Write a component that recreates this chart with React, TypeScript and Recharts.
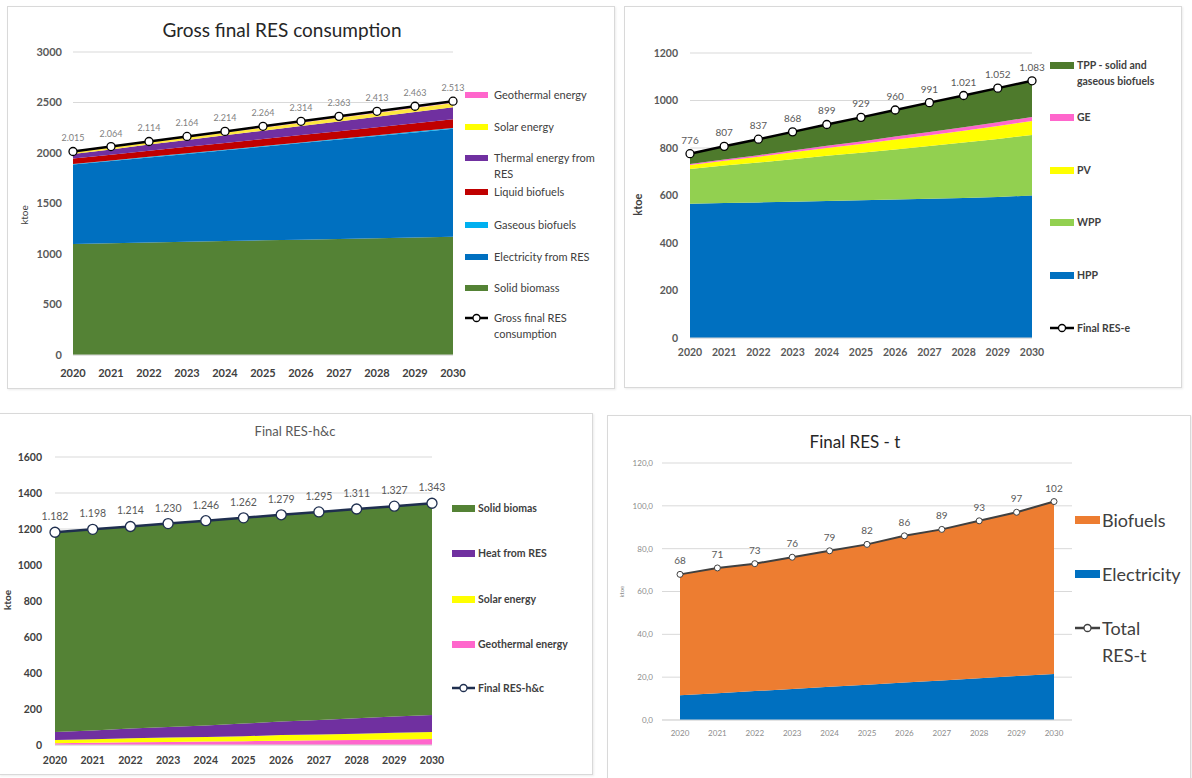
import React from "react";
import {
  ComposedChart,
  Area,
  Line,
  XAxis,
  YAxis,
  CartesianGrid,
  LabelList,
} from "recharts";

const YEARS = ["2020", "2021", "2022", "2023", "2024", "2025", "2026", "2027", "2028", "2029", "2030"];

// Gross final RES consumption (ktoe)
const grossSolidBiomass = [1100, 1107, 1114, 1121, 1128, 1135, 1142, 1149, 1156, 1163, 1170];
const grossElectricity = [785, 813, 842, 870, 899, 927, 956, 984, 1013, 1041, 1070];
const grossGaseous = [5, 5, 6, 6, 6, 7, 7, 7, 7, 8, 8];
const grossLiquid = [55, 58, 61, 64, 67, 70, 73, 76, 79, 82, 85];
const grossThermal = [45, 52, 60, 67, 75, 82, 90, 97, 105, 112, 120];
const grossSolar = [18, 20, 23, 25, 28, 30, 32, 35, 37, 40, 42];
const grossGeothermal = [7, 8, 8, 9, 10, 11, 12, 14, 15, 17, 18];
const grossTotal = [2015, 2064, 2114, 2164, 2214, 2264, 2314, 2363, 2413, 2463, 2513];

// Final RES-e (ktoe)
const eHpp = [565, 568, 571, 574, 577, 580, 583, 586, 590, 594, 600];
const eWpp = [147, 158, 168, 179, 190, 200, 211, 222, 233, 244, 255];
const ePv = [16, 20, 24, 29, 33, 37, 42, 46, 50, 55, 59];
const eGe = [5, 6, 7, 8, 9, 10, 12, 13, 14, 15, 17];
const eTpp = [43, 55, 67, 78, 90, 102, 112, 124, 134, 144, 152];
const eTotal = [776, 807, 837, 868, 899, 929, 960, 991, 1021, 1052, 1083];

// Final RES-h&c (ktoe)
const hcGeothermal = [10, 12, 15, 17, 19, 21, 24, 26, 28, 31, 33];
const hcSolar = [18, 20, 22, 24, 26, 28, 31, 33, 35, 37, 39];
const hcHeat = [44, 49, 54, 59, 64, 70, 75, 80, 85, 90, 95];
const hcBiomass = [1110, 1117, 1123, 1130, 1137, 1143, 1149, 1156, 1163, 1169, 1176];
const hcTotal = [1182, 1198, 1214, 1230, 1246, 1262, 1279, 1295, 1311, 1327, 1343];

// Final RES-t (ktoe)
const tElectricity = [11.5, 12.5, 13.5, 14.5, 15.5, 16.5, 17.5, 18.5, 19.5, 20.5, 21.5];
const tBiofuels = [56.5, 58.5, 59.5, 61.5, 63.5, 65.5, 68.5, 70.5, 73.5, 76.5, 80.5];
const tTotal = [68, 71, 73, 76, 79, 82, 86, 89, 93, 97, 102];

const grossTicks = [0, 500, 1000, 1500, 2000, 2500, 3000];
const eTicks = [0, 200, 400, 600, 800, 1000, 1200];
const hcTicks = [0, 200, 400, 600, 800, 1000, 1200, 1400, 1600];
const tTicks = [0, 20, 40, 60, 80, 100, 120];

const FONT = 'Lato, "Open Sans", sans-serif';

const grossData = YEARS.map((year, i) => ({
  year,
  solid: grossSolidBiomass[i],
  elec: grossElectricity[i],
  gas: grossGaseous[i],
  liquid: grossLiquid[i],
  thermal: grossThermal[i],
  solar: grossSolar[i],
  geo: grossGeothermal[i],
  total: grossTotal[i],
}));

const eData = YEARS.map((year, i) => ({
  year,
  hpp: eHpp[i],
  wpp: eWpp[i],
  pv: ePv[i],
  ge: eGe[i],
  tpp: eTpp[i],
  total: eTotal[i],
}));

const hcData = YEARS.map((year, i) => ({
  year,
  geo: hcGeothermal[i],
  solar: hcSolar[i],
  heat: hcHeat[i],
  biomass: hcBiomass[i],
  total: hcTotal[i],
}));

const tData = YEARS.map((year, i) => ({
  year,
  elec: tElectricity[i],
  bio: tBiofuels[i],
  total: tTotal[i],
}));

// 2015 -> "2.015"
const dotThousands = (v: any) => {
  const n = Math.round(Number(v));
  if (n < 1000) return String(n);
  return `${Math.floor(n / 1000)}.${String(n % 1000).padStart(3, "0")}`;
};
const commaDecimal = (v: any) => Number(v).toFixed(1).replace(".", ",");

function Panel({ left, top, width, height }: any) {
  return (
    <div
      style={{
        position: "absolute",
        left,
        top,
        width,
        height,
        border: "1px solid #d9d9d9",
        boxShadow: "1px 1px 2px rgba(0,0,0,0.08)",
        background: "#fff",
        boxSizing: "border-box",
      }}
    />
  );
}

function Title({ cx, cy, text, size, color, weight }: any) {
  return (
    <div
      style={{
        position: "absolute",
        left: cx - 200,
        top: cy - size * 0.6,
        width: 400,
        lineHeight: `${size * 1.2}px`,
        textAlign: "center",
        fontSize: size,
        color,
        fontWeight: weight || 400,
        fontFamily: FONT,
        whiteSpace: "nowrap",
      }}
    >
      {text}
    </div>
  );
}

function AxisTitle({ cx, cy, text, size, color, weight }: any) {
  return (
    <div
      style={{
        position: "absolute",
        left: cx - 30,
        top: cy - size * 0.6,
        width: 60,
        lineHeight: `${size * 1.2}px`,
        textAlign: "center",
        fontSize: size,
        color,
        fontWeight: weight || 400,
        fontFamily: FONT,
        transform: "rotate(-90deg)",
      }}
    >
      {text}
    </div>
  );
}

function LegendItem({ x, y, sw, sh, tx, color, lines, size, weight, lineHeight, kind, lineColor }: any) {
  return (
    <>
      {kind === "line" ? (
        <svg style={{ position: "absolute", left: x, top: y - 6 }} width={sw} height={12}>
          <line x1={0} y1={6} x2={sw} y2={6} stroke={lineColor} strokeWidth={2.5} />
          <circle cx={sw / 2} cy={6} r={3.5} fill="#fff" stroke={lineColor} strokeWidth={1.3} />
        </svg>
      ) : (
        <div
          style={{
            position: "absolute",
            left: x,
            top: y - sh / 2,
            width: sw,
            height: sh,
            background: color,
          }}
        />
      )}
      <div
        style={{
          position: "absolute",
          left: tx,
          top: y - lineHeight / 2,
          lineHeight: `${lineHeight}px`,
          fontSize: size,
          fontWeight: weight || 400,
          color: "#404040",
          fontFamily: FONT,
          whiteSpace: "nowrap",
        }}
      >
        {lines.map((l: string, i: number) => (
          <div key={i}>{l}</div>
        ))}
      </div>
    </>
  );
}

const grossLegend = [
  { label: ["Geothermal energy"], color: "#ff66cc", y: 95 },
  { label: ["Solar energy"], color: "#ffff00", y: 127 },
  { label: ["Thermal energy from", "RES"], color: "#7030a0", y: 158 },
  { label: ["Liquid biofuels"], color: "#c00000", y: 192 },
  { label: ["Gaseous biofuels"], color: "#00b0f0", y: 225 },
  { label: ["Electricity from RES"], color: "#0070c0", y: 257 },
  { label: ["Solid biomass"], color: "#548235", y: 288 },
  { label: ["Gross final RES", "consumption"], color: "#000", y: 318, kind: "line" },
];

const eLegend = [
  { label: ["TPP - solid and", "gaseous biofuels"], color: "#4e7a2c", y: 65 },
  { label: ["GE"], color: "#ff66cc", y: 117 },
  { label: ["PV"], color: "#ffff00", y: 170 },
  { label: ["WPP"], color: "#92d050", y: 222 },
  { label: ["HPP"], color: "#0070c0", y: 275 },
  { label: ["Final RES-e"], color: "#000", y: 328, kind: "line" },
];

const hcLegend = [
  { label: ["Solid biomas"], color: "#548235", y: 508 },
  { label: ["Heat from RES"], color: "#7030a0", y: 553 },
  { label: ["Solar energy"], color: "#ffff00", y: 599 },
  { label: ["Geothermal energy"], color: "#ff66cc", y: 644 },
  { label: ["Final RES-h&c"], color: "#1f2f4f", y: 688, kind: "line" },
];

const tLegend = [
  { label: ["Biofuels"], color: "#ed7d31", y: 520 },
  { label: ["Electricity"], color: "#0070c0", y: 574 },
  { label: ["Total", "RES-t"], color: "#404040", y: 628, kind: "line" },
];

export default function App() {
  const xTick = { fontSize: 11, fill: "#404040", fontWeight: 700, fontFamily: FONT };
  return (
    <div style={{ position: "absolute", left: 0, top: 0, width: 1192, height: 778, background: "#fff", overflow: "hidden", fontFamily: FONT }}>
      <Panel left={7} top={6} width={608} height={383} />
      <Panel left={624} top={6} width={558} height={382} />
      <Panel left={-1} top={413} width={594} height={362} />
      <Panel left={607} top={415} width={584} height={370} />

      {/* Gross final RES consumption */}
      <div style={{ position: "absolute", left: 0, top: 0 }}>
        <ComposedChart width={614} height={390} data={grossData} margin={{ top: 52, right: 161, left: 33, bottom: 5 }}>
          <CartesianGrid vertical={false} stroke="#d9d9d9" />
          <XAxis dataKey="year" scale="point" tickLine={false} axisLine={{ stroke: "#d9d9d9" }} tickSize={4} tickMargin={10} tick={xTick} interval={0} />
          <YAxis width={40} domain={[0, 3000]} ticks={grossTicks} axisLine={false} tickLine={false} tickMargin={5} tick={{ fontSize: 11, fill: "#595959", fontWeight: 700, fontFamily: FONT }} />
          <Area dataKey="solid" stackId="g" fill="#548235" stroke="none" fillOpacity={1} isAnimationActive={false} />
          <Area dataKey="elec" stackId="g" fill="#0070c0" stroke="none" fillOpacity={1} isAnimationActive={false} />
          <Area dataKey="gas" stackId="g" fill="#00b0f0" stroke="none" fillOpacity={1} isAnimationActive={false} />
          <Area dataKey="liquid" stackId="g" fill="#c00000" stroke="none" fillOpacity={1} isAnimationActive={false} />
          <Area dataKey="thermal" stackId="g" fill="#7030a0" stroke="none" fillOpacity={1} isAnimationActive={false} />
          <Area dataKey="solar" stackId="g" fill="#ffe840" stroke="none" fillOpacity={1} isAnimationActive={false} />
          <Area dataKey="geo" stackId="g" fill="#f9a0c8" stroke="none" fillOpacity={1} isAnimationActive={false} />
          <Line dataKey="total" stroke="#000" strokeWidth={2.5} dot={{ r: 4, fill: "#fff", stroke: "#000", strokeWidth: 1.3 }} isAnimationActive={false}>
            <LabelList dataKey="total" position="top" offset={10} formatter={dotThousands} style={{ fontSize: 9, fill: "#7f7f7f", fontFamily: FONT }} />
          </Line>
        </ComposedChart>
      </div>
      <Title cx={282} cy={30} text="Gross final RES consumption" size={19} color="#262626" />
      <AxisTitle cx={24} cy={215} text="ktoe" size={10} color="#404040" />
      {grossLegend.map((it) => (
        <LegendItem key={it.label[0]} x={465} y={it.y} sw={23} sh={6} tx={494} color={it.color} lines={it.label} size={11} lineHeight={16} kind={it.kind} lineColor={it.color} />
      ))}

      {/* Final RES-e */}
      <div style={{ position: "absolute", left: 620, top: 0 }}>
        <ComposedChart width={561} height={390} data={eData} margin={{ top: 53, right: 149, left: 30, bottom: 22 }}>
          <CartesianGrid vertical={false} stroke="#d9d9d9" />
          <XAxis dataKey="year" scale="point" tickLine={false} axisLine={{ stroke: "#d9d9d9" }} tickSize={6} tickMargin={5} tick={{ ...xTick, fontSize: 10.5, fill: "#595959" }} interval={0} />
          <YAxis width={40} domain={[0, 1200]} ticks={eTicks} axisLine={false} tickLine={false} tickMargin={6} tick={{ fontSize: 10.5, fill: "#595959", fontWeight: 700, fontFamily: FONT }} />
          <Area dataKey="hpp" stackId="e" fill="#0070c0" stroke="none" fillOpacity={1} isAnimationActive={false} />
          <Area dataKey="wpp" stackId="e" fill="#92d050" stroke="none" fillOpacity={1} isAnimationActive={false} />
          <Area dataKey="pv" stackId="e" fill="#ffff00" stroke="none" fillOpacity={1} isAnimationActive={false} />
          <Area dataKey="ge" stackId="e" fill="#ff66cc" stroke="none" fillOpacity={1} isAnimationActive={false} />
          <Area dataKey="tpp" stackId="e" fill="#4e7a2c" stroke="none" fillOpacity={1} isAnimationActive={false} />
          <Line dataKey="total" stroke="#000" strokeWidth={2.5} dot={{ r: 4, fill: "#fff", stroke: "#000", strokeWidth: 1.3 }} isAnimationActive={false}>
            <LabelList dataKey="total" position="top" offset={10} formatter={dotThousands} style={{ fontSize: 10, fill: "#595959", fontFamily: FONT }} />
          </Line>
        </ComposedChart>
      </div>
      <AxisTitle cx={638} cy={205} text="ktoe" size={11} color="#404040" weight={700} />
      {eLegend.map((it) => (
        <LegendItem key={it.label[0]} x={1050} y={it.y} sw={24} sh={7} tx={1077} color={it.color} lines={it.label} size={10.5} weight={700} lineHeight={16} kind={it.kind} lineColor={it.color} />
      ))}

      {/* Final RES-h&c */}
      <div style={{ position: "absolute", left: 0, top: 400 }}>
        <ComposedChart width={592} height={375} data={hcData} margin={{ top: 57, right: 160, left: 15, bottom: 0 }}>
          <CartesianGrid vertical={false} stroke="#d9d9d9" />
          <XAxis dataKey="year" scale="point" tickLine={false} axisLine={{ stroke: "#d9d9d9" }} tickSize={6} tickMargin={6} tick={{ ...xTick, fontSize: 10.5, fill: "#404040" }} interval={0} />
          <YAxis width={40} domain={[0, 1600]} ticks={hcTicks} axisLine={false} tickLine={false} tickMargin={7} tick={{ fontSize: 10.5, fill: "#404040", fontWeight: 700, fontFamily: FONT }} />
          <Area dataKey="geo" stackId="h" fill="#ff66cc" stroke="none" fillOpacity={1} isAnimationActive={false} />
          <Area dataKey="solar" stackId="h" fill="#ffff00" stroke="none" fillOpacity={1} isAnimationActive={false} />
          <Area dataKey="heat" stackId="h" fill="#7030a0" stroke="none" fillOpacity={1} isAnimationActive={false} />
          <Area dataKey="biomass" stackId="h" fill="#548235" stroke="none" fillOpacity={1} isAnimationActive={false} />
          <Line dataKey="total" stroke="#1f2f4f" strokeWidth={2.5} dot={{ r: 5, fill: "#fff", stroke: "#1f2f4f", strokeWidth: 1.3 }} isAnimationActive={false}>
            <LabelList dataKey="total" position="top" offset={12} formatter={dotThousands} style={{ fontSize: 10.5, fill: "#595959", fontFamily: FONT }} />
          </Line>
        </ComposedChart>
      </div>
      <Title cx={295} cy={432} text="Final RES-h&c" size={13} color="#595959" />
      <AxisTitle cx={7} cy={600} text="ktoe" size={10} color="#404040" weight={700} />
      {hcLegend.map((it) => (
        <LegendItem key={it.label[0]} x={452} y={it.y} sw={23} sh={7} tx={478} color={it.color} lines={it.label} size={10.5} weight={700} lineHeight={16} kind={it.kind} lineColor={it.color} />
      ))}

      {/* Final RES - t */}
      <div style={{ position: "absolute", left: 600, top: 400 }}>
        <ComposedChart width={592} height={378} data={tData} margin={{ top: 63, right: 120, left: 22, bottom: 28 }}>
          <CartesianGrid vertical={false} stroke="#d9d9d9" />
          <XAxis dataKey="year" scale="point" padding={{ left: 18, right: 18 }} tickLine={false} axisLine={{ stroke: "#d9d9d9" }} tickSize={6} tickMargin={4} tick={{ fontSize: 8, fill: "#8c8c8c", fontFamily: FONT }} interval={0} />
          <YAxis width={40} domain={[0, 120]} ticks={tTicks} tickFormatter={commaDecimal} axisLine={false} tickLine={false} tickMargin={3} tick={{ fontSize: 8, fill: "#8c8c8c", fontFamily: FONT }} />
          <Area dataKey="elec" stackId="t" fill="#0070c0" stroke="none" fillOpacity={1} isAnimationActive={false} />
          <Area dataKey="bio" stackId="t" fill="#ed7d31" stroke="none" fillOpacity={1} isAnimationActive={false} />
          <Line dataKey="total" stroke="#404040" strokeWidth={2} dot={{ r: 3, fill: "#fff", stroke: "#404040", strokeWidth: 1 }} isAnimationActive={false}>
            <LabelList dataKey="total" position="top" offset={10} style={{ fontSize: 10, fill: "#595959", fontFamily: FONT }} />
          </Line>
        </ComposedChart>
      </div>
      <Title cx={855} cy={442} text="Final RES - t" size={17} color="#262626" />
      <AxisTitle cx={622} cy={592} text="ktoe" size={6} color="#8c8c8c" />
      {tLegend.map((it) => (
        <LegendItem key={it.label[0]} x={1075} y={it.y} sw={25} sh={8} tx={1102} color={it.color} lines={it.label} size={18} lineHeight={27} kind={it.kind} lineColor={it.color} />
      ))}
    </div>
  );
}
